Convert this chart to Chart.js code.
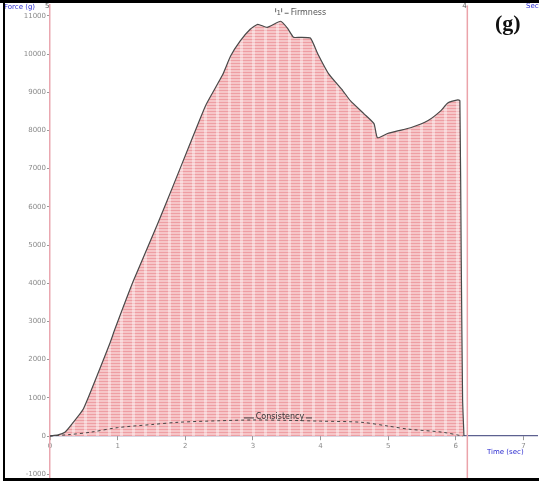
<!DOCTYPE html>
<html>
<head>
<meta charset="utf-8">
<script src="https://cdn.jsdelivr.net/npm/chart.js@4/dist/chart.umd.min.js"></script>
<style>
  html, body { margin: 0; padding: 0; background: #fff; }
  #wrap { width: 539px; height: 484px; position: relative; }
</style>
</head>
<body>
<div id="wrap"><canvas id="textureChart" width="539" height="484"></canvas></div>
<script>
// firmness curve (time in sec, force in g)
const timeSec = [0, 0.12, 0.22, 0.30, 0.49, 0.70, 0.89, 0.96, 1.23, 1.59, 1.82, 2.07, 2.30, 2.55, 2.67, 2.81, 2.96, 3.07, 3.21, 3.41, 3.51, 3.60, 3.70, 3.85, 3.96, 4.12, 4.33, 4.44, 4.64, 4.79, 4.84, 4.99, 5.14, 5.33, 5.59, 5.78, 5.88, 6.03, 6.06, 6.08, 6.10, 6.12];
const forceG = [0, 30, 100, 260, 700, 1600, 2450, 2800, 4050, 5550, 6550, 7650, 8650, 9450, 9950, 10340, 10650, 10780, 10700, 10860, 10680, 10440, 10440, 10420, 10000, 9480, 9040, 8780, 8440, 8180, 7810, 7920, 7990, 8070, 8260, 8520, 8720, 8800, 8780, 4600, 960, 0];

// consistency trace (low dashed hump)
const consTime = [0, 0.3, 0.6, 1.0, 1.5, 1.9, 2.5, 3.0, 3.5, 4.0, 4.6, 5.0, 5.3, 5.8, 6.1];
const consForce = [0, 40, 100, 220, 300, 360, 400, 420, 410, 390, 360, 260, 180, 100, 0];

// cursor line
const cursorTime = [6.17, 6.17];
const cursorForce = [-1120, 11280];

const xTicks = [0, 1, 2, 3, 4, 5, 6, 7];
const yTicks = [-1000, 0, 1000, 2000, 3000, 4000, 5000, 6000, 7000, 8000, 9000, 10000, 11000];

function makePattern() {
    const c = document.createElement("canvas");
    c.width = 12;
    c.height = 3;
    const g = c.getContext("2d");
    g.fillStyle = "#f6c6c8";
    g.fillRect(0, 0, 12, 3);
    g.fillStyle = "#ee9ea3";
    g.fillRect(0, 0, 12, 1);
    g.fillStyle = "rgba(255,255,255,0.4)";
    g.fillRect(0, 0, 3, 3);
    return g.createPattern(c, "repeat");
}

const toPoints = (xs, ys) => xs.map((x, i) => ({ x: x, y: ys[i] }));

const decorations = {
    id: "decorations",
    afterDraw(chart) {
        const g = chart.ctx;
        const xs = chart.scales.x;
        const ys = chart.scales.y;
        g.save();

        // firmness marker
        const fx = xs.getPixelForValue(3.41);
        const fy = ys.getPixelForValue(10860);
        g.fillStyle = "#555";
        g.font = "7px 'DejaVu Sans'";
        g.textBaseline = "middle";
        g.textAlign = "center";
        g.fillText("1", fx - 2, fy - 8);
        g.strokeStyle = "#666";
        g.lineWidth = 1;
        g.beginPath();
        g.moveTo(fx - 5, fy - 13); g.lineTo(fx - 5, fy - 9);
        g.moveTo(fx + 1, fy - 13); g.lineTo(fx + 1, fy - 9);
        g.moveTo(fx + 4, fy - 8); g.lineTo(fx + 8, fy - 8);
        g.stroke();
        g.textAlign = "left";
        g.font = "8px 'DejaVu Sans'";
        g.fillText("Firmness", fx + 10, fy - 8);

        // consistency label
        const cx = xs.getPixelForValue(3.4);
        const cy = ys.getPixelForValue(500);
        g.font = "8px 'DejaVu Sans'";
        g.textAlign = "center";
        g.fillStyle = "#333";
        g.fillText("Consistency", cx, cy);
        g.strokeStyle = "#444";
        g.beginPath();
        g.moveTo(cx - 36, cy + 1); g.lineTo(cx - 26, cy + 1);
        g.moveTo(cx + 26, cy + 1); g.lineTo(cx + 32, cy + 1);
        g.stroke();

        // axis captions
        g.fillStyle = "#2b2bd0";
        g.font = "7px 'DejaVu Sans'";
        g.textAlign = "left";
        g.fillText("Force (g)", 4, 7);
        g.fillStyle = "#555";
        g.fillText("5", 45, 6);
        g.fillText("4", xs.getPixelForValue(6.17) - 5, 6);
        g.fillStyle = "#2b2bd0";
        g.fillText("Secs", 526, 6);
        g.fillText("Time (sec)", 487, ys.getPixelForValue(0) + 16);

        // panel label
        g.fillStyle = "#111";
        g.font = "bold 22px 'Liberation Serif'";
        g.fillText("(g)", 495, 24);

        // frame
        g.fillStyle = "#000";
        g.fillRect(0, 0, 539, 3);
        g.fillRect(3, 0, 2, 481);
        g.fillRect(3, 478, 536, 3);
        g.restore();
    }
};

const ctx = document.getElementById("textureChart").getContext("2d");
const chart = new Chart(ctx, {
    type: "line",
    data: {
        datasets: [
            {
                label: "Firmness",
                data: toPoints(timeSec, forceG),
                borderColor: "#4a4a4a",
                borderWidth: 1.2,
                pointRadius: 0,
                fill: "origin",
                backgroundColor: makePattern(),
                tension: 0.15,
                order: 3
            },
            {
                label: "Consistency",
                data: toPoints(consTime, consForce),
                borderColor: "#444",
                borderWidth: 1,
                borderDash: [3, 3],
                pointRadius: 0,
                fill: false,
                tension: 0.3,
                order: 1
            },
            {
                label: "Cursor",
                data: toPoints(cursorTime, cursorForce),
                borderColor: "#eba3aa",
                borderWidth: 1.5,
                pointRadius: 0,
                fill: false,
                order: 2
            }
        ]
    },
    options: {
        responsive: false,
        animation: false,
        layout: { padding: { left: 4, right: 2, top: 4, bottom: 4 } },
        plugins: {
            legend: { display: false },
            tooltip: { enabled: false }
        },
        scales: {
            x: {
                type: "linear",
                min: 0,
                max: 7.2,
                position: { y: 0 },
                afterBuildTicks: s => { s.ticks = xTicks.map(v => ({ value: v })); },
                ticks: {
                    color: "#8a8a8a",
                    font: { size: 7, family: "DejaVu Sans" },
                    padding: 2,
                    maxRotation: 0,
                    callback: v => String(v)
                },
                grid: { display: true, drawOnChartArea: false, tickLength: 4, color: "#999" },
                border: { color: "#5d6190", width: 1.2 }
            },
            y: {
                type: "linear",
                min: -1120,
                max: 11280,
                afterFit: s => { s.width = 46; },
                afterBuildTicks: s => { s.ticks = yTicks.map(v => ({ value: v })); },
                ticks: {
                    color: "#8a8a8a",
                    font: { size: 7, family: "DejaVu Sans" },
                    padding: 1,
                    callback: v => String(v)
                },
                grid: { display: true, drawOnChartArea: false, tickLength: 3, color: "#999" },
                border: { color: "#eaa7b0", width: 1.5 }
            }
        }
    },
    plugins: [decorations]
});
</script>
</body>
</html>
